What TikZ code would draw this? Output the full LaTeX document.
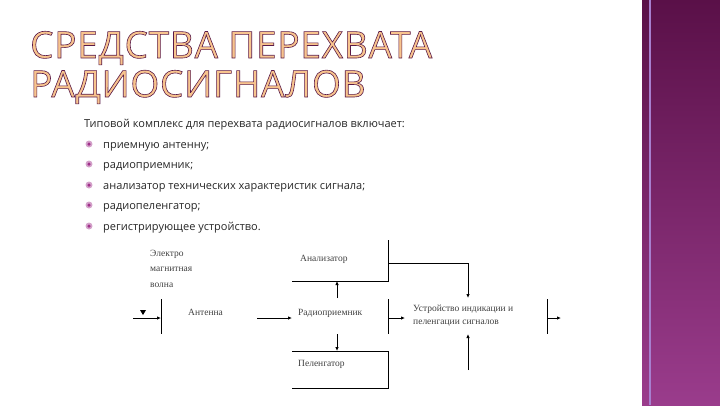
\documentclass[tikz,border=0pt]{standalone}
\usepackage{fontspec}
\setmainfont{Liberation Serif}
\newfontfamily\bodyfont{Open Sans}
\newfontfamily\titlefont[LetterSpace=2]{Open Sans}
\usetikzlibrary{arrows.meta}
\definecolor{bandtop}{HTML}{5A1048}
\definecolor{bandbot}{HTML}{9A3C8C}
\definecolor{titlefill}{HTML}{F8C48E}
\definecolor{bul}{HTML}{A0308A}
\newcommand{\outl}[1]{\special{pdf:literal direct 0.35 0.1 0.28 RG 2 Tr 0.6 w}#1\special{pdf:literal direct 0 Tr}}
\tikzset{
  ttl/.style={anchor=base west,inner sep=0,font=\titlefont\fontsize{37}{37}\selectfont,text=titlefill},
  body/.style={anchor=base west,inner sep=0,font=\bodyfont\fontsize{11}{13}\selectfont,text=black!85},
  dtext/.style={anchor=north west,inner sep=0,font=\fontsize{9.5}{15.5}\selectfont,text=black!75,align=left},
  ln/.style={line width=0.8pt},
  ar/.style={line width=0.8pt,-{Latex[length=4pt,width=3.5pt]}},
}
\begin{document}
\begin{tikzpicture}[x=1pt,y=-1pt]
\useasboundingbox (0,0) rectangle (720,405);
\shade[top color=bandtop,bottom color=bandbot] (642,0) rectangle (720,405);
\draw[bandbot!70!blue!60,line width=1.5pt] (650,0) -- (650,405);
\node[ttl] (t1) at (30,58) {\outl{СРЕДСТВА ПЕРЕХВАТА}};
\node[ttl] (t2) at (30,97) {\outl{РАДИОСИГНАЛОВ}};
\node[body] (h) at (84,127) {Типовой комплекс для перехвата радиосигналов включает:};
\foreach \y/\t [count=\i] in {148/приемную антенну;,168/радиоприемник;,189/анализатор технических характеристик сигнала;,209/радиопеленгатор;,230/регистрирующее устройство.}{
  \node[circle,fill=bul!45,minimum size=7pt,inner sep=0] (b\i) at (89,\y-4) {};
  \node[circle,fill=bul,minimum size=3.5pt,inner sep=0] at (b\i) {};
  \node[body] (l\i) at (103,\y) {\t};
}
% diagram
\node[dtext] (em) at (150,250) {Электро\\магнитная\\волна};
\node[dtext] (ant) at (188,309) {Антенна};
\node[dtext] (rp) at (298,309) {Радиоприемник};
\node[dtext] (an) at (300,255) {Анализатор};
\node[dtext] (pel) at (298,360) {Пеленгатор};
\node[dtext,font=\fontsize{9.5}{13}\selectfont] (ui) at (413,305) {Устройство индикации и\\пеленгации сигналов};
\coordinate (in0) at (133,318);
\coordinate (antR) at (161,318);
\draw[ln] (161,299) -- (161,334);
\draw[ar] (in0) -- (antR);
\fill (140,310) -- (146,310) -- (143,315) -- cycle;
\draw[ar] (257,318) -- (292,318);
% analyzer box
\draw[ln] (292,281) -- (388,281) -- (388,240);
\draw[ar] (388,263) -- (468,263) -- (468,298);
\draw[ar] (337,298) -- (337,281);
\draw[ar] (337,334) -- (337,351);
\draw[ln] (388,299) -- (388,334);
\draw[ar] (388,318) -- (405,318);
\draw[ln] (292,351) -- (388,351) -- (388,388) -- (292,388);
\draw[ar] (468,370) -- (468,334);
\draw[ln] (547,299) -- (547,334);
\draw[ar] (547,318) -- (561,318);
\end{tikzpicture}
\end{document}
